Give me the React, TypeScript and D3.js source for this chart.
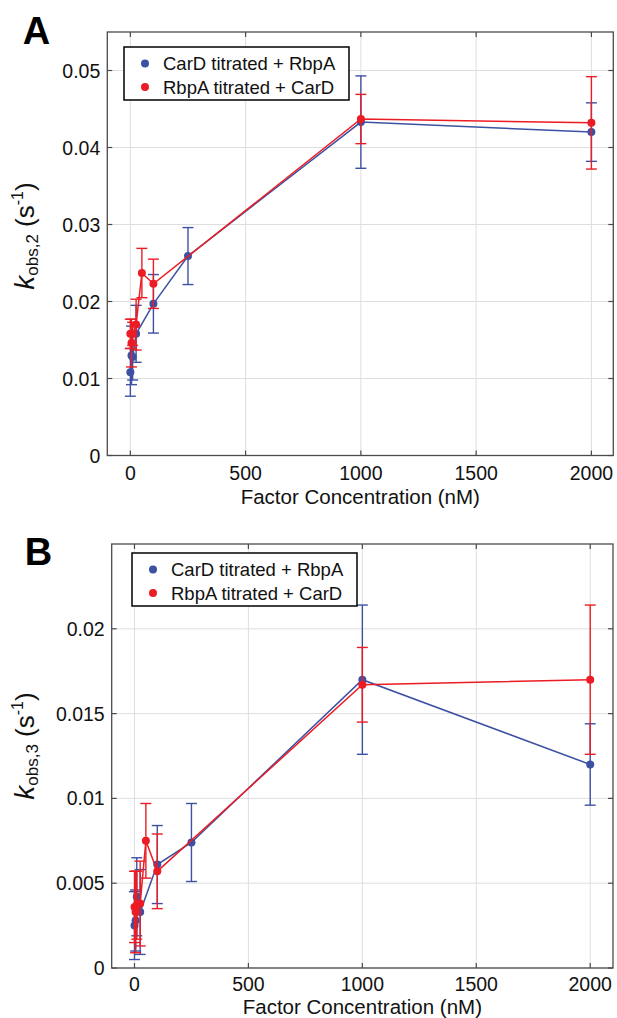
import React from 'react';
import * as d3 from 'd3';

// ---------- data ----------
const xTicks = [0, 500, 1000, 1500, 2000];
const xTickLabels = ['0', '500', '1000', '1500', '2000'];
const yTicksA = [0, 0.01, 0.02, 0.03, 0.04, 0.05];
const yTickLabelsA = ['0', '0.01', '0.02', '0.03', '0.04', '0.05'];
const yTicksB = [0, 0.005, 0.01, 0.015, 0.02];
const yTickLabelsB = ['0', '0.005', '0.01', '0.015', '0.02'];
const legendLabels = ['CarD titrated + RbpA', 'RbpA titrated + CarD'];
const xTitle = 'Factor Concentration (nM)';

// CarD titrated + RbpA (blue)
const concCarD = [0, 5, 10, 25, 100, 250, 1000, 2000];
const kobs2CarD = [0.0108, 0.0130, 0.0128, 0.0158, 0.0197, 0.0259, 0.0433, 0.0420];
const kobs2CarDErr = [0.0031, 0.0038, 0.0030, 0.0037, 0.0038, 0.0037, 0.0060, 0.0038];
const kobs3CarD = [0.0025, 0.0028, 0.0042, 0.0033, 0.0061, 0.0074, 0.0170, 0.0120];
const kobs3CarDErr = [0.0020, 0.0018, 0.0023, 0.0025, 0.0023, 0.0023, 0.0044, 0.0024];

// RbpA titrated + CarD (red)
const concRbpA = [0, 5, 10, 25, 50, 100, 1000, 2000];
const kobs2RbpA = [0.0158, 0.0146, 0.0158, 0.0170, 0.0237, 0.0223, 0.0437, 0.0432];
const kobs2RbpAErr = [0.0019, 0.0031, 0.0015, 0.0033, 0.0032, 0.0032, 0.0032, 0.0060];
const kobs3RbpA = [0.0036, 0.0033, 0.0037, 0.0038, 0.0075, 0.0057, 0.0167, 0.0170];
const kobs3RbpAErr = [0.0021, 0.0024, 0.0020, 0.0025, 0.0022, 0.0022, 0.0022, 0.0044];

// ---------- style ----------
const BLUE = '#3d51a3';
const RED = '#ec1c24';
const FONT = "'Liberation Sans', Arial, Helvetica, sans-serif";
const AXIS = '#4a4a4a';
const GRID = '#dedede';

type Series = { x: number[]; y: number[]; err: number[]; color: string };

type PanelProps = {
  letter: string;
  letterX: number;
  letterY: number;
  box: { left: number; right: number; top: number; bottom: number };
  xDomain: [number, number];
  yDomain: [number, number];
  yTicks: number[];
  yTickLabels: string[];
  series: Series[];
  legendX: number;
  legendY: number;
  sub: string;
  yLabelCenter: number;
  xTickOffset: number;
  xTitleOffset: number;
};

function Panel(p: PanelProps) {
  const { box } = p;
  const x = d3.scaleLinear().domain(p.xDomain).range([box.left, box.right]);
  const y = d3.scaleLinear().domain(p.yDomain).range([box.bottom, box.top]);
  const tickLen = 5;
  const cap = 5.5;

  return (
    <g>
      {/* grid */}
      {xTicks.map((t) => (
        <line key={'gx' + t} x1={x(t)} x2={x(t)} y1={box.top} y2={box.bottom} stroke={GRID} strokeWidth={1} />
      ))}
      {p.yTicks.map((t) => (
        <line key={'gy' + t} x1={box.left} x2={box.right} y1={y(t)} y2={y(t)} stroke={GRID} strokeWidth={1} />
      ))}

      {/* series */}
      {p.series.map((s, si) => {
        const pts = s.x.map((xv, i) => [x(xv), y(s.y[i])] as [number, number]);
        const path = d3.line()(pts) || '';
        return (
          <g key={'s' + si}>
            {s.x.map((xv, i) => {
              const cx = x(xv);
              const y1 = y(s.y[i] + s.err[i]);
              const y2 = y(s.y[i] - s.err[i]);
              return (
                <g key={'e' + i} stroke={s.color} strokeWidth={1.4}>
                  <line x1={cx} x2={cx} y1={y1} y2={y2} />
                  <line x1={cx - cap} x2={cx + cap} y1={y1} y2={y1} />
                  <line x1={cx - cap} x2={cx + cap} y1={y2} y2={y2} />
                </g>
              );
            })}
            <path d={path} fill="none" stroke={s.color} strokeWidth={1.5} />
            {pts.map((pt, i) => (
              <circle key={'c' + i} cx={pt[0]} cy={pt[1]} r={4} fill={s.color} />
            ))}
          </g>
        );
      })}

      {/* box & ticks */}
      <rect x={box.left} y={box.top} width={box.right - box.left} height={box.bottom - box.top} fill="none" stroke={AXIS} strokeWidth={1.3} />
      {xTicks.map((t) => (
        <g key={'tx' + t} stroke={AXIS} strokeWidth={1.2}>
          <line x1={x(t)} x2={x(t)} y1={box.bottom} y2={box.bottom - tickLen} />
          <line x1={x(t)} x2={x(t)} y1={box.top} y2={box.top + tickLen} />
        </g>
      ))}
      {p.yTicks.map((t) => (
        <g key={'ty' + t} stroke={AXIS} strokeWidth={1.2}>
          <line x1={box.left} x2={box.left + tickLen} y1={y(t)} y2={y(t)} />
          <line x1={box.right} x2={box.right - tickLen} y1={y(t)} y2={y(t)} />
        </g>
      ))}

      {/* tick labels */}
      {xTicks.map((t, i) => (
        <text key={'lx' + t} x={x(t)} y={box.bottom + p.xTickOffset} textAnchor="middle" fontSize={19.5} fontFamily={FONT} fill="#111">
          {xTickLabels[i]}
        </text>
      ))}
      {p.yTicks.map((t, i) => (
        <text key={'ly' + t} x={box.left - 7} y={y(t)} dy="0.36em" textAnchor="end" fontSize={19.5} fontFamily={FONT} fill="#111">
          {p.yTickLabels[i]}
        </text>
      ))}

      {/* axis titles */}
      <text x={(box.left + box.right) / 2} y={box.bottom + p.xTitleOffset} textAnchor="middle" fontSize={20.5} fontFamily={FONT} fill="#111">
        {xTitle}
      </text>
      <text transform={`translate(34,${p.yLabelCenter}) rotate(-90)`} textAnchor="middle" fontFamily={FONT} fill="#111">
        <tspan fontSize={28} fontStyle="italic">k</tspan>
        <tspan fontSize={17} dy={4}>{p.sub}</tspan>
        <tspan fontSize={26} dy={-4}>{' (s'}</tspan>
        <tspan fontSize={16} dy={-11}>-1</tspan>
        <tspan fontSize={26} dy={11}>)</tspan>
      </text>

      {/* legend */}
      <g>
        <rect x={p.legendX} y={p.legendY} width={225} height={53} fill="#fff" stroke="#000" strokeWidth={1.5} />
        {legendLabels.map((lab, i) => (
          <g key={'lg' + i}>
            <circle cx={p.legendX + 21} cy={p.legendY + 16.5 + i * 23.5} r={4} fill={p.series[i].color} />
            <text x={p.legendX + 39} y={p.legendY + 16.5 + i * 23.5} dy="0.36em" fontSize={18.5} fontFamily={FONT} fill="#111">
              {lab}
            </text>
          </g>
        ))}
      </g>

      {/* panel letter */}
      <text x={p.letterX} y={p.letterY} textAnchor="middle" fontSize={38} fontWeight="bold" fontFamily={FONT} fill="#000">
        {p.letter}
      </text>
    </g>
  );
}

export default function App() {
  return (
    <svg width={617} height={1018} style={{ position: 'absolute', left: 0, top: 0, background: '#fff' }}>
      <rect width={617} height={1018} fill="#fff" />
      <Panel
        letter="A"
        letterX={36.5}
        letterY={44}
        box={{ left: 107.3, right: 613.3, top: 32, bottom: 455.5 }}
        xDomain={[-100, 2095]}
        yDomain={[0, 0.055]}
        yTicks={yTicksA}
        yTickLabels={yTickLabelsA}
        series={[
          { x: concCarD, y: kobs2CarD, err: kobs2CarDErr, color: BLUE },
          { x: concRbpA, y: kobs2RbpA, err: kobs2RbpAErr, color: RED },
        ]}
        legendX={124}
        legendY={47}
        sub="obs,2"
        yLabelCenter={236}
        xTickOffset={24}
        xTitleOffset={48.5}
      />
      <Panel
        letter="B"
        letterX={38.6}
        letterY={565}
        box={{ left: 111.7, right: 613, top: 544, bottom: 968 }}
        xDomain={[-100, 2100]}
        yDomain={[0, 0.025]}
        yTicks={yTicksB}
        yTickLabels={yTickLabelsB}
        series={[
          { x: concCarD, y: kobs3CarD, err: kobs3CarDErr, color: BLUE },
          { x: concRbpA, y: kobs3RbpA, err: kobs3RbpAErr, color: RED },
        ]}
        legendX={132}
        legendY={553}
        sub="obs,3"
        yLabelCenter={746}
        xTickOffset={22.5}
        xTitleOffset={45.5}
      />
    </svg>
  );
}
